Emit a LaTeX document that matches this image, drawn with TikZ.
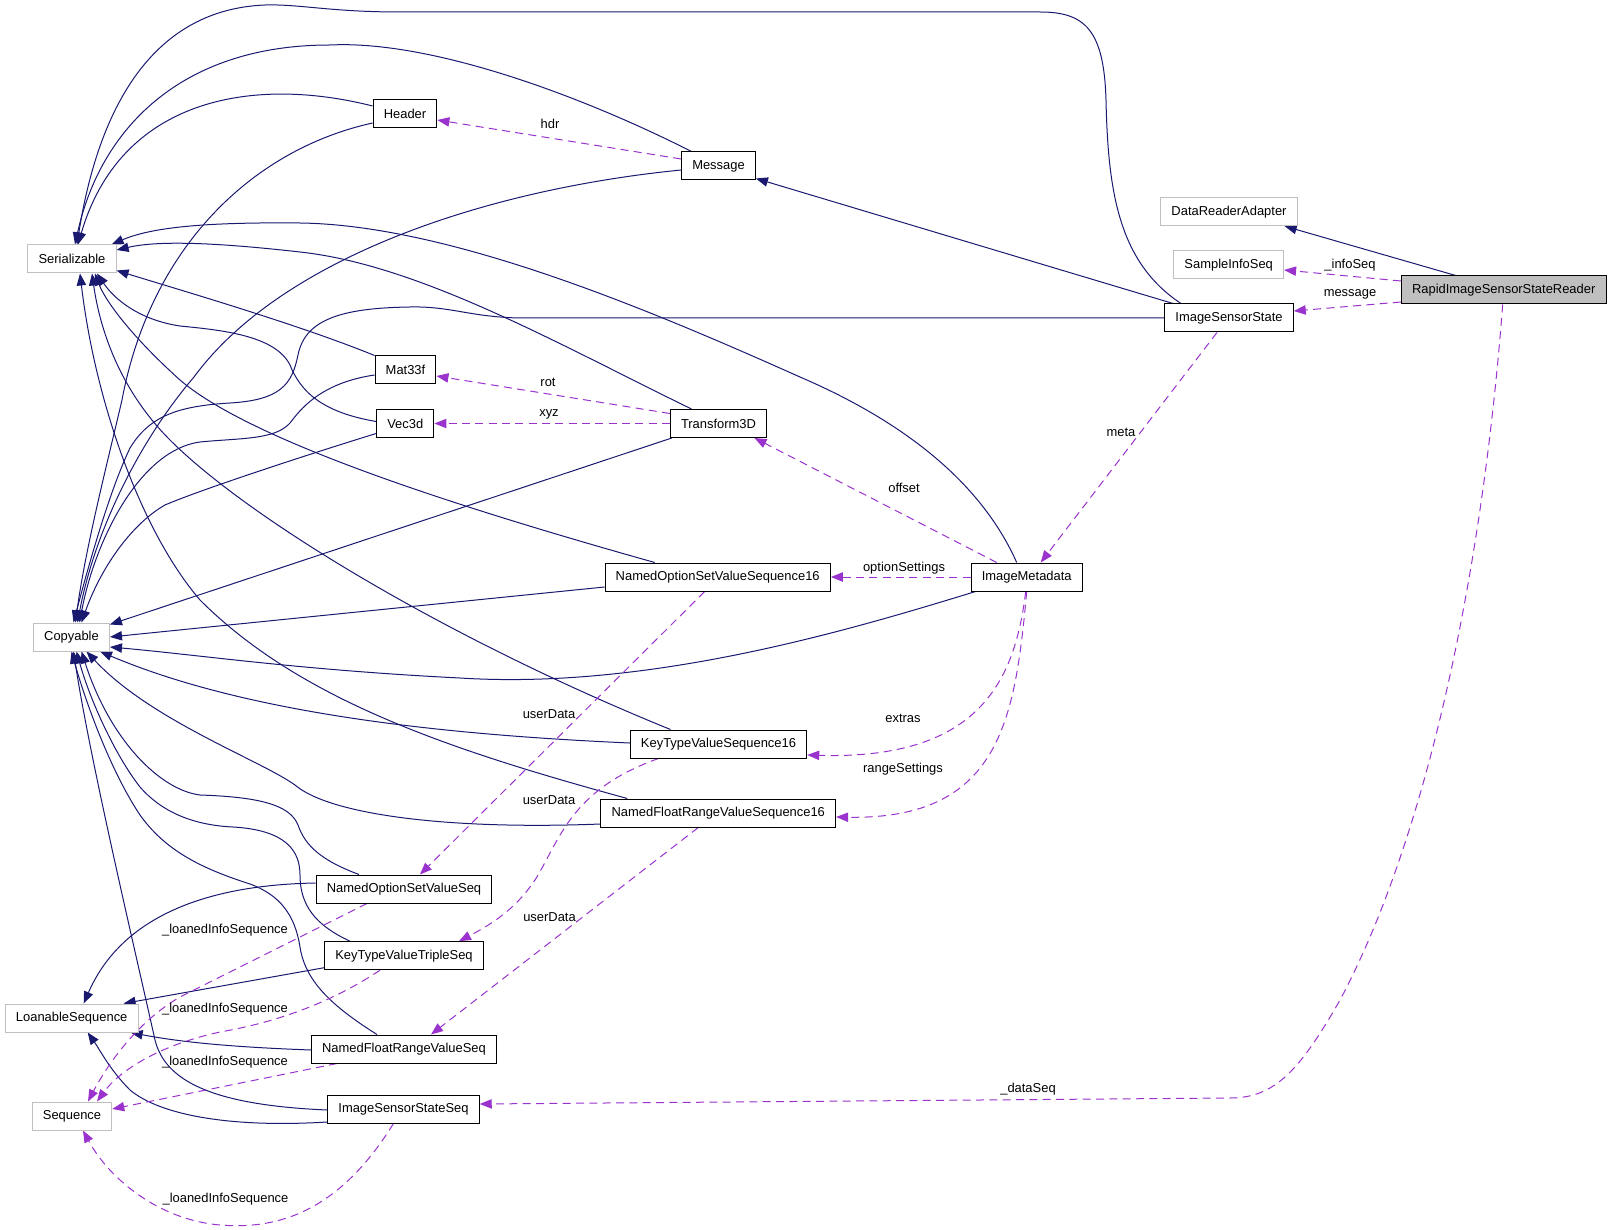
\documentclass[tikz,border=0pt]{standalone}
\usepackage{fontspec}
\setmainfont{Liberation Sans}
\usetikzlibrary{arrows.meta,calc,backgrounds}
\definecolor{navy}{RGB}{25,25,112}
\definecolor{orch}{RGB}{154,50,205}
\begin{document}
\begin{tikzpicture}[x=0.75pt,y=-0.75pt,
  every node/.style={font=\fontsize{9.7}{11}\selectfont},
  box/.style={draw=black, fill=white, line width=0.75pt, minimum height=21pt, inner xsep=8pt, inner ysep=0pt},
  ext/.style={box, draw=gray!50},
  cur/.style={box, fill=gray!50},
  inh/.style={draw=navy, line width=0.75pt, -{Triangle[length=9pt,width=7pt]}},
  dep/.style={draw=orch, line width=0.75pt, dash pattern=on 6pt off 4pt, -{Triangle[length=9pt,width=7pt]}},
  lbl/.style={inner sep=0pt}]
\useasboundingbox (0,0) rectangle (1613,1230);

% nodes
\node[ext] (ser) at (72,259) {Serializable};
\node[ext] (cop) at (71.5,637) {Copyable};
\node[ext] (loan) at (71.7,1018) {LoanableSequence};
\node[ext] (seq) at (72,1116) {Sequence};
\node[box] (hdr) at (405,114) {Header};
\node[box] (msg) at (718.5,166) {Message};
\node[box] (mat) at (405.5,370) {Mat33f};
\node[box] (vec) at (405.3,423.5) {Vec3d};
\node[box] (tr) at (718.5,423.5) {Transform3D};
\node[box] (nos16) at (717.7,577) {NamedOptionSetValueSequence16};
\node[box] (ktv16) at (718.5,744) {KeyTypeValueSequence16};
\node[box] (nfr16) at (718.3,813) {NamedFloatRangeValueSequence16};
\node[box] (nos) at (404,889) {NamedOptionSetValueSeq};
\node[box] (ktvt) at (404,955.7) {KeyTypeValueTripleSeq};
\node[box] (nfr) at (404,1049) {NamedFloatRangeValueSeq};
\node[box] (isss) at (403.5,1109) {ImageSensorStateSeq};
\node[box] (meta) at (1026.7,577) {ImageMetadata};
\node[box] (iss) at (1229,318) {ImageSensorState};
\node[ext] (dra) at (1229,211.7) {DataReaderAdapter};
\node[ext] (sis) at (1228.7,265) {SampleInfoSeq};
\node[cur] (reader) at (1503.7,290) {RapidImageSensorStateReader};

\begin{scope}[on background layer]
% ---------- inheritance edges ----------
\draw[inh] ($(iss.north)+(-48,0)$) .. controls (1118,262) and (1108,190) .. (1106,100)
  .. controls (1104,30) and (1085,12) .. (1040,12) -- (400,12)
  .. controls (330,12) and (300,4) .. (265,5)
  .. controls (140,10) and (95,130) .. ($(ser.north)+(5,0)$);
\draw[inh] ($(msg.north)+(-27,0)$) .. controls (580,95) and (430,40) .. (330,45)
  .. controls (180,45) and (100,130) .. ($(ser.north)+(3,0)$);
\draw[inh] ($(hdr.west)+(0,-8)$) .. controls (250,75) and (120,100) .. ($(ser.north)+(6,0)$);
\draw[inh] ($(hdr.west)+(0,9)$) .. controls (250,150) and (150,250) .. (122,400)
  .. controls (108,460) and (85,550) .. ($(cop.north)+(4,0)$);
\draw[inh] ($(msg.west)+(0,4)$) .. controls (480,190) and (280,260) .. (194,377)
  .. controls (140,440) and (95,530) .. ($(cop.north)+(6,0)$);
\draw[inh] (iss.west) -- (520,318) .. controls (470,317) and (450,306) .. (410,307)
  .. controls (340,308) and (305,320) .. (298,355)
  .. controls (292,385) and (280,400) .. (230,403)
  .. controls (180,406) and (150,415) .. (130,448)
  .. controls (110,490) and (90,560) .. ($(cop.north)+(2,0)$);
\draw[inh] (mat.north west) .. controls (300,325) and (180,290) .. ($(ser.south east)+(0,-3)$);
\draw[inh] ($(vec.west)+(0,-2)$) .. controls (320,412) and (300,390) .. (290,365)
  .. controls (275,335) and (220,330) .. (180,326)
  .. controls (140,320) and (115,300) .. ($(ser.south)+(25,0)$);
\draw[inh] ($(vec.west)+(0,10)$) .. controls (300,457) and (200,490) .. (165,505)
  .. controls (130,525) and (100,570) .. ($(cop.north)+(10,0)$);
\draw[inh] ($(mat.west)+(0,5)$) .. controls (320,383) and (300,410) .. (290,423)
  .. controls (275,440) and (240,438) .. (200,442)
  .. controls (140,450) and (95,540) .. ($(cop.north)+(8,0)$);
\draw[inh] ($(tr.north)+(-27,0)$) .. controls (560,345) and (420,265) .. (300,252)
  .. controls (220,243) and (160,240) .. ($(ser.east)+(0,-9)$);
\draw[inh] ($(tr.south west)+(2,0)$) -- ($(cop.north east)+(0,2)$);
\draw[inh] ($(meta.north)+(-10,0)$) .. controls (980,480) and (900,420) .. (800,377)
  .. controls (650,310) and (450,225) .. (300,223)
  .. controls (200,222) and (150,228) .. ($(ser.north east)+(-5,0)$);
\draw[inh] ($(meta.south west)+(5,0)$) .. controls (850,630) and (650,690) .. (460,678)
  .. controls (300,670) and (200,655) .. ($(cop.east)+(0,10)$);
\draw[inh] ($(nos16.north)+(-63,0)$) .. controls (450,505) and (250,440) .. (180,380)
  .. controls (130,335) and (105,300) .. ($(ser.south)+(23,0)$);
\draw[inh] ($(nos16.west)+(0,10)$) -- (cop.east);
\draw[inh] ($(ktv16.north)+(-48,0)$) .. controls (450,640) and (250,520) .. (170,440)
  .. controls (120,390) and (100,330) .. ($(ser.south)+(20,0)$);
\draw[inh] ($(ktv16.west)+(0,-1)$) .. controls (450,735) and (250,715) .. ($(cop.south east)+(-10,0)$);
\draw[inh] ($(nfr16.north)+(-91,0)$) .. controls (450,750) and (300,700) .. (200,600)
  .. controls (140,530) and (95,400) .. ($(ser.south)+(8,0)$);
\draw[inh] ($(nfr16.west)+(0,11)$) .. controls (450,830) and (330,815) .. (295,785)
  .. controls (260,760) and (150,720) .. ($(cop.south)+(15,0)$);
\draw[inh] ($(nos.north)+(-45,0)$) .. controls (320,860) and (305,845) .. (298,825)
  .. controls (290,805) and (260,797) .. (200,795)
  .. controls (160,790) and (110,740) .. ($(cop.south)+(10,0)$);
\draw[inh] ($(ktvt.north)+(-54,0)$) .. controls (315,925) and (300,905) .. (300,875)
  .. controls (300,850) and (285,830) .. (233,827)
  .. controls (190,825) and (160,810) .. (140,787)
  .. controls (115,755) and (90,700) .. ($(cop.south)+(5,0)$);
\draw[inh] ($(nfr.north)+(-27,0)$) .. controls (330,1005) and (305,980) .. (300,947)
  .. controls (295,915) and (280,895) .. (250,884)
  .. controls (200,868) and (165,850) .. (140,815)
  .. controls (110,770) and (85,700) .. (cop.south);
\draw[inh] ($(isss.west)+(0,1)$) .. controls (210,1105) and (165,1080) .. (155,1040)
  .. controls (135,950) and (90,760) .. ($(cop.south)+(2,0)$);
\draw[inh] ($(nos.west)+(0,-6)$) .. controls (200,885) and (120,920) .. ($(loan.north)+(12,0)$);
\draw[inh] ($(ktvt.west)+(0,12)$) -- ($(loan.north east)+(-15,0)$);
\draw[inh] ($(nfr.west)+(0,1)$) .. controls (230,1047) and (180,1042) .. ($(loan.south east)+(-8,0)$);
\draw[inh] ($(isss.west)+(0,13)$) .. controls (230,1128) and (160,1115) .. (130,1090)
  .. controls (110,1070) and (100,1050) .. ($(loan.south)+(16,0)$);
\draw[inh] ($(iss.north)+(-56,0)$) -- ($(msg.south east)+(0,-2)$);
\draw[inh] ($(reader.north)+(-48,0)$) -- ($(dra.south east)+(-13,0)$);

% ---------- usage edges ----------
\draw[dep] ($(msg.west)+(0,-7)$) -- ($(hdr.east)+(0,6)$);
\draw[dep] ($(tr.west)+(0,-10)$) -- ($(mat.east)+(0,6)$);
\draw[dep] (tr.west) -- (vec.east);
\draw[dep] ($(meta.north)+(-30,0)$) -- ($(tr.south)+(36,0)$);
\draw[dep] (meta.west) -- (nos16.east);
\draw[dep] ($(meta.south)+(-1,0)$) .. controls (1015,680) and (980,760) .. ($(ktv16.east)+(0,11)$);
\draw[dep] (meta.south) .. controls (1015,720) and (1000,820) .. ($(nfr16.east)+(0,4)$);
\draw[dep] ($(iss.south)+(-12,0)$) -- ($(meta.north)+(14,0)$);
\draw[dep] ($(reader.west)+(0,-9)$) -- ($(sis.east)+(0,5)$);
\draw[dep] ($(reader.west)+(0,12)$) -- ($(iss.east)+(0,-7)$);
\draw[dep] ($(reader.south)+(-1,0)$) .. controls (1480,600) and (1420,850) .. (1340,1000)
  .. controls (1300,1070) and (1275,1098) .. (1230,1098) -- ($(isss.east)+(0,-5)$);
\draw[dep] ($(nos16.south)+(-13,0)$) -- ($(nos.north)+(16,0)$);
\draw[dep] ($(ktv16.south)+(-60,0)$) .. controls (570,790) and (560,840) .. (535,880)
  .. controls (515,910) and (490,925) .. ($(ktvt.north)+(55,0)$);
\draw[dep] ($(nfr16.south)+(-20,0)$) -- ($(nfr.north)+(27,0)$);
\draw[dep] ($(nos.south)+(-37,0)$) -- (180,997) .. controls (140,1020) and (110,1060) .. ($(seq.north)+(16,0)$);
\draw[dep] ($(ktvt.south)+(-24,0)$) .. controls (320,1010) and (260,1025) .. (220,1032)
  .. controls (160,1045) and (120,1070) .. ($(seq.north)+(25,0)$);
\draw[dep] ($(nfr.south)+(-67,0)$) -- ($(seq.east)+(0,-7)$);
\draw[dep] ($(isss.south)+(-10,0)$) .. controls (340,1210) and (280,1230) .. (220,1225)
  .. controls (160,1220) and (110,1180) .. ($(seq.south)+(11,0)$);
\end{scope}

% labels
\node[lbl] (lhdr) at (550,124) {hdr};
\node[lbl] (lrot) at (548,382) {rot};
\node[lbl] (lxyz) at (549,414) {xyz};
\node[lbl] (loff) at (904,488) {offset};
\node[lbl] (lopt) at (904,568) {optionSettings};
\node[lbl] (lext) at (903,718) {extras};
\node[lbl] (lrng) at (903,769) {rangeSettings};
\node[lbl] (lmeta) at (1121,432) {meta};
\node[lbl] (linfo) at (1350,265) {\_infoSeq};
\node[lbl] (lmsg) at (1350,294) {message};
\node[lbl] (ldata) at (1028,1089) {\_dataSeq};
\node[lbl] (lud1) at (549,714) {userData};
\node[lbl] (lud2) at (549,800) {userData};
\node[lbl] (lud3) at (549.5,917) {userData};
\node[lbl] (lli1) at (225,930) {\_loanedInfoSequence};
\node[lbl] (lli2) at (225,1009) {\_loanedInfoSequence};
\node[lbl] (lli3) at (225,1062) {\_loanedInfoSequence};
\node[lbl] (lli4) at (225.5,1199) {\_loanedInfoSequence};
\end{tikzpicture}
\end{document}
